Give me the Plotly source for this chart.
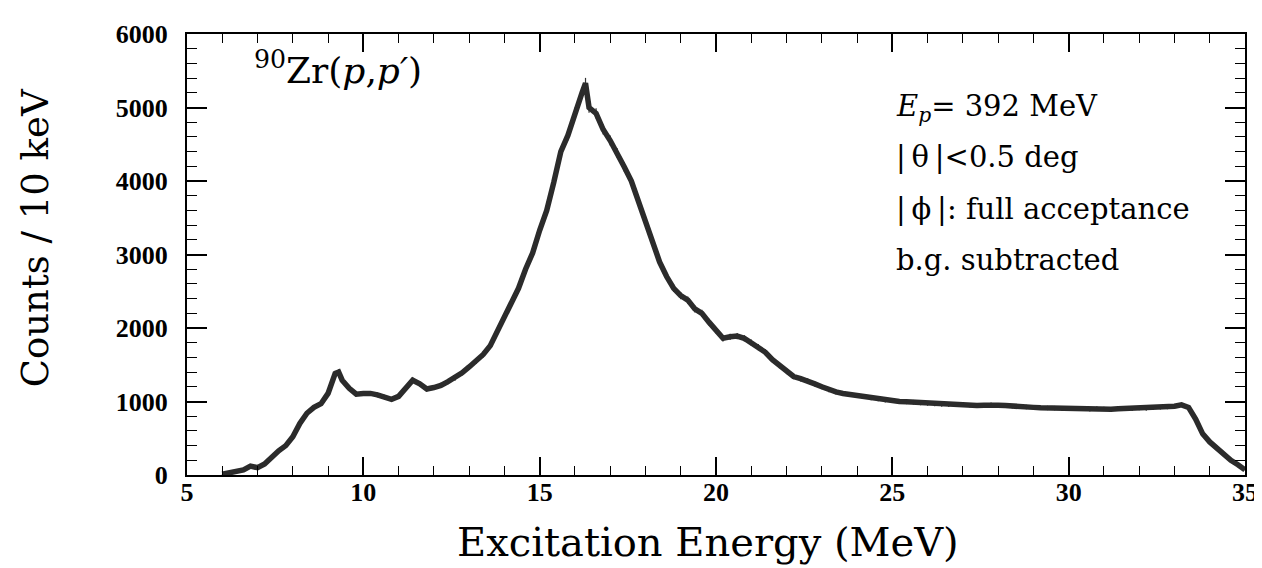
import plotly.graph_objects as go

# Excitation energy (MeV) and counts per 10 keV
energy = [6.0, 6.2, 6.4, 6.6, 6.8, 7.0, 7.2, 7.4, 7.6, 7.8, 8.0, 8.2, 8.4, 8.6, 8.8,
          9.0, 9.2, 9.3, 9.4, 9.6, 9.8, 10.0, 10.2, 10.4, 10.6, 10.8, 11.0, 11.2, 11.4,
          11.6, 11.8, 12.0, 12.2, 12.4, 12.6, 12.8, 13.0, 13.2, 13.4, 13.6, 13.8, 14.0,
          14.2, 14.4, 14.6, 14.8, 15.0, 15.2, 15.4, 15.6, 15.8, 16.0, 16.2, 16.3, 16.4,
          16.6, 16.8, 17.0, 17.2, 17.4, 17.6, 17.8, 18.0, 18.2, 18.4, 18.6, 18.8, 19.0,
          19.2, 19.4, 19.6, 19.8, 20.0, 20.2, 20.4, 20.6, 20.8, 21.0, 21.2, 21.4, 21.6,
          21.8, 22.0, 22.2, 22.4, 22.6, 22.8, 23.0, 23.2, 23.4, 23.6, 23.8, 24.0, 24.2,
          24.4, 24.6, 24.8, 25.0, 25.2, 25.4, 25.6, 25.8, 26.0, 26.2, 26.4, 26.6, 26.8,
          27.0, 27.2, 27.4, 27.6, 27.8, 28.0, 28.2, 28.4, 28.6, 28.8, 29.0, 29.2, 29.4,
          29.6, 29.8, 30.0, 30.2, 30.4, 30.6, 30.8, 31.0, 31.2, 31.4, 31.6, 31.8, 32.0,
          32.2, 32.4, 32.6, 32.8, 33.0, 33.2, 33.4, 33.6, 33.8, 34.0, 34.2, 34.4, 34.6,
          34.8, 35.0]
counts = [10, 30, 40, 70, 120, 100, 150, 250, 330, 400, 520, 700, 840, 920, 970,
          1110, 1380, 1400, 1290, 1180, 1100, 1110, 1110, 1090, 1060, 1030, 1070, 1180, 1290,
          1240, 1170, 1190, 1220, 1270, 1320, 1390, 1470, 1550, 1640, 1760, 1950, 2150,
          2330, 2540, 2800, 3020, 3330, 3600, 3980, 4400, 4620, 4930, 5200, 5330, 5000,
          4920, 4700, 4550, 4380, 4190, 4000, 3720, 3460, 3170, 2900, 2700, 2540, 2440,
          2380, 2260, 2200, 2080, 1970, 1860, 1880, 1890, 1860, 1800, 1740, 1670, 1570,
          1490, 1410, 1340, 1310, 1280, 1240, 1200, 1160, 1130, 1110, 1095, 1080, 1065,
          1050, 1035, 1020, 1010, 1000, 995, 990, 980, 975, 965, 958, 955, 960,
          955, 950, 945, 950, 955, 950, 945, 935, 930, 925, 920, 915, 912,
          910, 905, 900, 905, 900, 895, 905, 900, 895, 900, 905, 900, 910,
          905, 915, 920, 925, 935, 955, 920, 760, 560, 450, 360, 280, 200,
          140, 70]

x_ticks = [5, 10, 15, 20, 25, 30, 35]
y_ticks = [0, 1000, 2000, 3000, 4000, 5000, 6000]

TICK_FONT = dict(family="Liberation Serif", size=26, color="black", weight="bold")
TEXT_FONT = "DejaVu Serif"

fig = go.Figure()
fig.add_trace(go.Scatter(
    x=energy, y=counts, mode="lines",
    line=dict(color="#2b2b2b", width=5.5),
    error_y=dict(type="sqrt", visible=True, thickness=1.2, width=0, color="#333333"),
    showlegend=False, hoverinfo="x+y",
))

axis_common = dict(
    showgrid=False, zeroline=False, showline=True, linecolor="black", linewidth=2,
    mirror="allticks", ticks="inside", tickcolor="black", tickwidth=1.5,
    tickfont=TICK_FONT,
)
fig.update_xaxes(range=[5, 35], tickvals=x_ticks, ticklen=18,
                 minor=dict(dtick=1, ticks="inside", ticklen=9, tickcolor="black", tickwidth=1.2),
                 ticklabelstandoff=-7, **axis_common)
fig.update_yaxes(range=[0, 6000], tickvals=y_ticks, ticklen=20,
                 minor=dict(dtick=200, ticks="inside", ticklen=10, tickcolor="black", tickwidth=1.2),
                 ticklabelstandoff=12, **axis_common)

ann = []
ann.append(dict(text="Excitation Energy (MeV)", xref="paper", yref="paper",
                x=0.4925, y=-0.1508, xanchor="center", yanchor="middle", showarrow=False,
                font=dict(family=TEXT_FONT, size=40, color="black")))
ann.append(dict(text="Counts / 10 keV", xref="paper", yref="paper", textangle=-90,
                x=-0.1435, y=0.537, xanchor="center", yanchor="middle", showarrow=False,
                font=dict(family=TEXT_FONT, size=37, color="black")))
ann.append(dict(text="<sup>90</sup>Zr(<i>p</i>,<i>p′</i>)", xref="paper", yref="paper",
                x=0.061, y=0.867, xanchor="left", yanchor="bottom", showarrow=False,
                font=dict(family=TEXT_FONT, size=36, color="black")))
right_lines = ["<i>E</i><sub><i>p</i></sub>= 392 MeV",
               "|\u2009θ\u2009|&lt;0.5 deg",
               "|\u2009ϕ\u2009|: full acceptance",
               "b.g. subtracted"]
right_y = [0.8806, 0.7633, 0.6455, 0.5303]
for t, yy in zip(right_lines, right_y):
    ann.append(dict(text=t, xref="paper", yref="paper", x=0.668, y=yy,
                    xanchor="left", yanchor="top", showarrow=False,
                    font=dict(family=TEXT_FONT, size=29, color="black")))

fig.update_layout(
    width=1262, height=568,
    margin=dict(l=179, r=17, t=16, b=101),
    paper_bgcolor="white", plot_bgcolor="white",
    annotations=ann,
)

fig.write_html("out.html")
